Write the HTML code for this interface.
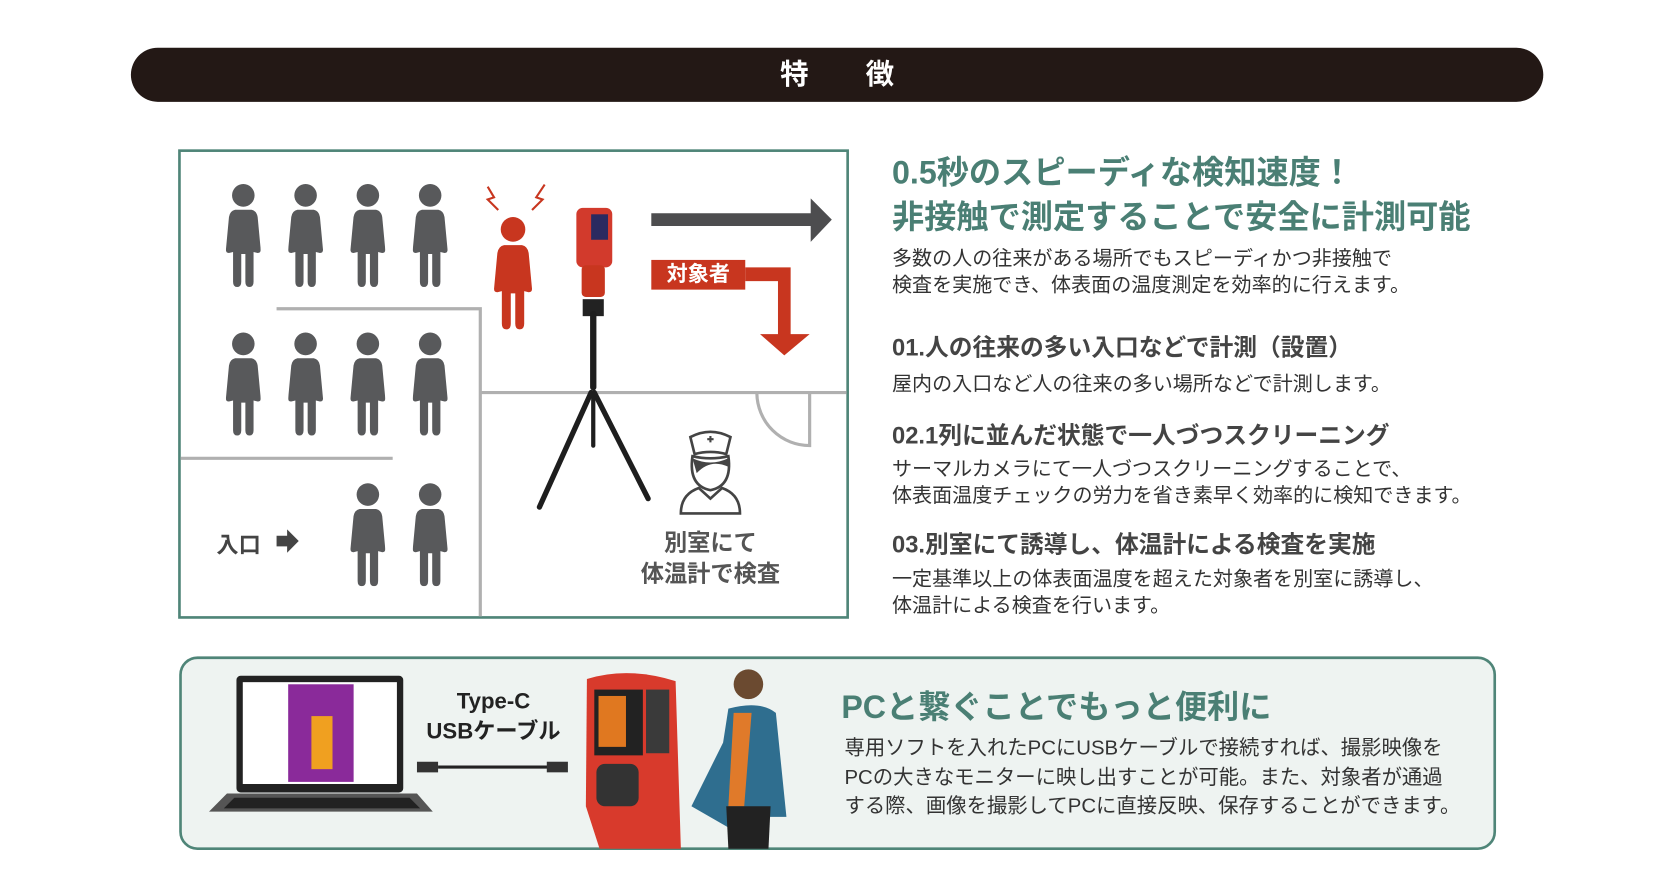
<!DOCTYPE html>
<html><head><meta charset="utf-8">
<style>
html,body{margin:0;padding:0;background:#fff;width:1655px;height:877px;overflow:hidden}
#w{position:absolute;left:0;top:0;width:1560px;height:827px;transform:scale(1.0556,1.0609);transform-origin:0 0;font-family:"Liberation Sans","Noto Sans CJK JP",sans-serif}
.t{position:absolute;white-space:nowrap}
.bar{position:absolute;left:124px;top:45px;width:1338px;height:51px;border-radius:26px;background:#231815;color:#fff;font-weight:bold;font-size:27px;text-align:center;line-height:51px}
.teal{color:#4a7f74;font-weight:bold}
.bd{color:#333;font-size:19px}
.hd{color:#444;font-weight:bold;font-size:22.5px}
</style></head><body><div id="w">
<div class="bar">特　　徴</div>

<svg style="position:absolute;left:0;top:0" width="1560" height="827">
<defs>
<symbol id="p" viewBox="0 0 34 100">
<circle cx="17" cy="11" r="11"/>
<path d="M9 25 H25 Q30 26 31 32 L34 64 Q34 67 31 67 L27 66 V95 Q27 100 23 100 Q19 100 19 95 V68 H15 V95 Q15 100 11 100 Q7 100 7 95 V66 L3 67 Q0 67 0 64 L3 32 Q4 26 9 25Z"/>
</symbol>
</defs>
<rect x="170" y="142" width="633" height="440" fill="#fff" stroke="#4f8578" stroke-width="2.5"/>
<g stroke="#b0b0b0" stroke-width="3" fill="none">
<path d="M262 291 H455 V581"/>
<path d="M455 370 H802"/>
<path d="M171 432 H372"/>
<path d="M767 371 V420 A50 50 0 0 1 717 371"/>
</g>
<g fill="#58595b">
<use href="#p" x="214" y="172" width="33" height="100"/>
<use href="#p" x="273" y="172" width="33" height="100"/>
<use href="#p" x="332" y="172" width="33" height="100"/>
<use href="#p" x="391" y="172" width="33" height="100"/>
<use href="#p" x="214" y="312" width="33" height="100"/>
<use href="#p" x="273" y="312" width="33" height="100"/>
<use href="#p" x="332" y="312" width="33" height="100"/>
<use href="#p" x="391" y="312" width="33" height="100"/>
<use href="#p" x="332" y="454" width="33" height="100"/>
<use href="#p" x="391" y="454" width="33" height="100"/>
</g>
<g fill="#c8361f"><use href="#p" x="468" y="200" width="36" height="115"/></g>
<g fill="none" stroke="#c8361f" stroke-width="2"><path d="M462 176 L468 186 L462 188 L472 198"/><path d="M516 174 L508 186 L514 188 L504 198"/></g>
<rect x="546" y="196" width="34" height="56" rx="6" fill="#d23a2c"/>
<rect x="560" y="202" width="16" height="24" fill="#2a2a60"/>
<rect x="551" y="250" width="22" height="30" rx="4" fill="#c8361f"/>
<rect x="552" y="282" width="20" height="16" fill="#222"/>
<g stroke="#1e1e1e" stroke-linecap="round" fill="none"><path d="M562 296 V365" stroke-width="6"/><path d="M560 370 L511 478" stroke-width="5"/><path d="M563 370 L614 470" stroke-width="5"/><path d="M562 370 V420" stroke-width="4"/></g>
<path d="M617 201 H768 V187 L788 207 L768 228 V213 H617Z" fill="#4d4d4f"/>
<rect x="617" y="245" width="89" height="28" fill="#c8361f"/>
<path d="M706 252 H749 V315 H767 L743 335 L720 315 H737 V265 H706Z" fill="#c8361f"/>
<g fill="none" stroke="#444" stroke-width="2.5"><path d="M654 412 Q673 402 692 412 L688 428 Q673 424 658 428Z"/><path d="M645 484 Q645 466 662 460 L673 470 L684 460 Q701 466 701 484Z"/></g>
<path d="M670 414 h6 M673 411 v6" stroke="#444" stroke-width="2"/>
<path d="M656 430 Q652 458 673 462 Q694 458 690 430 Q673 434 656 430Z" fill="#fff" stroke="#444" stroke-width="2.5"/>
<path d="M656 432 Q673 440 690 432 L690 440 Q673 432 660 446Z" fill="#444"/>
<path d="M262 505 h10 v-6 l11 11 l-11 11 v-6 h-10z" fill="#444"/>
<rect x="171" y="620" width="1245" height="180" rx="16" fill="#eef3f1" stroke="#4f8578" stroke-width="2.5"/>
<rect x="224" y="637" width="158" height="110" rx="4" fill="#222"/>
<rect x="230" y="643" width="146" height="96" fill="#fff"/>
<rect x="273" y="645" width="62" height="92" fill="#8a2a9a"/>
<rect x="295" y="675" width="20" height="50" fill="#f0a020"/>
<path d="M215 748 H395 L410 765 H198Z" fill="#555"/>
<path d="M222 752 H388 L398 762 H212Z" fill="#222"/>
<path d="M395 718 h20 v10 h-20z" fill="#333"/><path d="M415 723 H520" stroke="#222" stroke-width="3"/><rect x="518" y="718" width="20" height="10" fill="#333"/>
<path d="M556 640 Q595 628 640 642 L645 800 H568 L555 760Z" fill="#d83a2c"/>
<rect x="563" y="650" width="46" height="62" fill="#222"/><rect x="567" y="656" width="26" height="48" fill="#e07820"/>
<rect x="612" y="650" width="22" height="60" fill="#3a3a3a"/>
<rect x="565" y="720" width="40" height="40" rx="8" fill="#333"/>
<circle cx="709" cy="645" r="14" fill="#6b4a30"/>
<path d="M690 668 Q720 660 735 672 L745 770 L700 770 L690 780 L655 760 L685 700Z" fill="#2f6e8f"/>
<path d="M695 672 L712 672 L705 760 L690 760Z" fill="#e07a2a"/>
<path d="M688 760 H730 L728 800 H690Z" fill="#222"/>
</svg>

<div class="t" style="left:617px;top:245px;width:89px;height:28px;line-height:28px;text-align:center;color:#fff;font-weight:bold;font-size:20px">対象者</div>
<div class="t" style="left:205px;top:498px;color:#444;font-weight:bold;font-size:21px">入口</div>
<div class="t" style="left:573px;top:497px;width:200px;text-align:center;color:#555;font-weight:bold;font-size:22px;line-height:29px">別室にて<br>体温計で検査</div>

<div class="t teal" style="left:845px;top:142px;font-size:30.5px;line-height:42px">0.5秒のスピーディな検知速度！<br>非接触で測定することで安全に計測可能</div>
<div class="t bd" style="left:845px;top:232px;line-height:25px">多数の人の往来がある場所でもスピーディかつ非接触で<br>検査を実施でき、体表面の温度測定を効率的に行えます。</div>
<div class="t hd" style="left:845px;top:310px">01.人の往来の多い入口などで計測（設置）</div>
<div class="t bd" style="left:845px;top:347px">屋内の入口など人の往来の多い場所などで計測します。</div>
<div class="t hd" style="left:845px;top:393px">02.1列に並んだ状態で一人づつスクリーニング</div>
<div class="t bd" style="left:845px;top:430px;line-height:25px">サーマルカメラにて一人づつスクリーニングすることで、<br>体表面温度チェックの労力を省き素早く効率的に検知できます。</div>
<div class="t hd" style="left:845px;top:496px">03.別室にて誘導し、体温計による検査を実施</div>
<div class="t bd" style="left:845px;top:534px;line-height:25px">一定基準以上の体表面温度を超えた対象者を別室に誘導し、<br>体温計による検査を行います。</div>

<div class="t" style="left:395px;top:648px;width:145px;text-align:center;color:#222;font-weight:bold;font-size:21px;line-height:28px">Type-C<br>USBケーブル</div>
<div class="t teal" style="left:797px;top:642px;font-size:30.5px">PCと繋ぐことでもっと便利に</div>
<div class="t bd" style="left:800px;top:692px;font-size:19.3px;line-height:27.5px">専用ソフトを入れたPCにUSBケーブルで接続すれば、撮影映像を<br>PCの大きなモニターに映し出すことが可能。また、対象者が通過<br>する際、画像を撮影してPCに直接反映、保存することができます。</div>
</div></body></html>
